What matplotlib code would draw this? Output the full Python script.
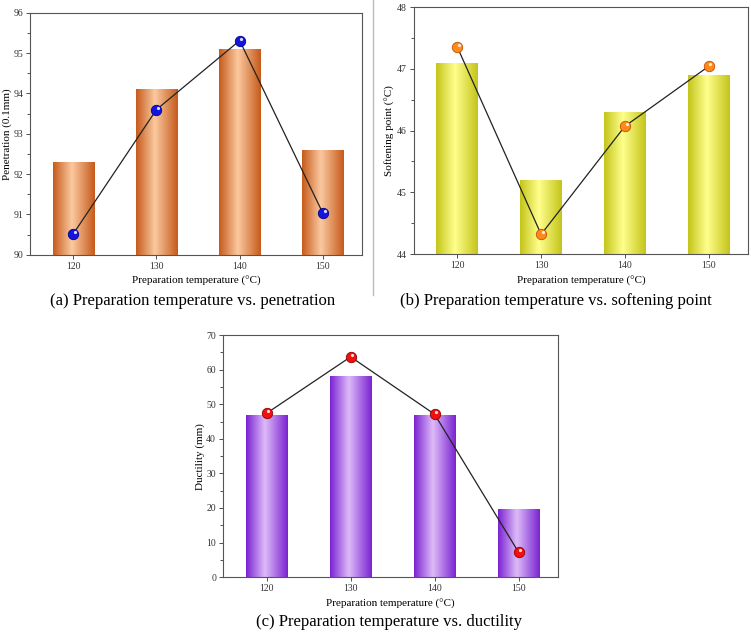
import numpy as np
import matplotlib
matplotlib.use("Agg")
import matplotlib.pyplot as plt
from matplotlib.colors import LinearSegmentedColormap
from matplotlib.ticker import AutoMinorLocator
import matplotlib.transforms as mtransforms

plt.rcParams['font.family'] = ['Liberation Serif', 'DejaVu Serif']

temps = ['120', '130', '140', '150']

pen_bar = [92.3, 94.1, 95.1, 92.6]
pen_line = [90.52, 93.6, 95.31, 91.03]

soft_bar = [47.1, 45.2, 46.3, 46.9]
soft_line = [47.35, 44.32, 46.07, 47.04]

duct_bar = [47.0, 58.2, 46.9, 19.7]
duct_line = [47.4, 63.7, 47.1, 7.2]

x = np.arange(len(temps))


def gradient_bars(ax, vals, ymin, edge, mid):
    cmap = LinearSegmentedColormap.from_list('g', [(0, edge), (0.45, mid), (1, edge)])
    grad = np.linspace(0, 1, 256).reshape(1, -1)
    bars = ax.bar(x, [v - ymin for v in vals], bottom=ymin, width=0.5,
                  color='none', edgecolor='none', zorder=2)
    for b in bars:
        bx, by = b.get_x(), b.get_y()
        w, h = b.get_width(), b.get_height()
        im = ax.imshow(grad, cmap=cmap, aspect='auto', extent=[bx, bx + w, by, by + h],
                       zorder=2, interpolation='bicubic')
        im.set_clip_path(b)


def sphere_line(ax, vals, face, dark):
    ax.plot(x, vals, color='#222222', lw=0.9, zorder=3)
    ax.plot(x, vals, 'o', ms=7.5, mfc=face, mec=dark, mew=0.6, zorder=4)
    off = mtransforms.offset_copy(ax.transData, fig=ax.figure, x=1.2, y=1.4, units='points')
    ax.plot(x, vals, 'o', ms=2.3, mfc='white', mec='none', alpha=0.85,
            transform=off, zorder=5)


def style(ax, ylim, yticks, ylabel):
    ax.set_xlim(-0.52, 3.47)
    ax.set_ylim(*ylim)
    ax.set_yticks(yticks)
    ax.yaxis.set_minor_locator(AutoMinorLocator(2))
    ax.set_xticks(x)
    ax.set_xticklabels(temps)
    ax.tick_params(axis='both', labelsize=7, colors='#333333', length=3, width=0.6, pad=2)
    ax.tick_params(axis='y', which='minor', length=2, width=0.6, color='#333333')
    for s in ax.spines.values():
        s.set_color('#555555')
        s.set_linewidth(0.8)
    ax.set_ylabel(ylabel, fontsize=8, labelpad=1)
    ax.set_xlabel('Preparation temperature (°C)', fontsize=8, labelpad=4)


fig = plt.figure(figsize=(7.51, 6.37), dpi=100)

ax1 = fig.add_axes([0.040, 0.600, 0.442, 0.380])
gradient_bars(ax1, pen_bar, 90, '#C65A1A', '#FBC9A0')
sphere_line(ax1, pen_line, '#1515E0', '#00008A')
style(ax1, (90, 96), range(90, 97), 'Penetration (0.1mm)')

ax2 = fig.add_axes([0.551, 0.601, 0.445, 0.388])
gradient_bars(ax2, soft_bar, 44, '#C4C41A', '#FFFF8C')
sphere_line(ax2, soft_line, '#FF8A1A', '#C05000')
style(ax2, (44, 48), range(44, 49), 'Softening point (°C)')

ax3 = fig.add_axes([0.297, 0.094, 0.446, 0.380])
gradient_bars(ax3, duct_bar, 0, '#7A22D2', '#DDBBF8')
sphere_line(ax3, duct_line, '#F01010', '#900000')
style(ax3, (0, 70), range(0, 71, 10), 'Ductility (mm)')

fig.add_artist(plt.Line2D([0.4967, 0.4967], [0.537, 1.0], color='#BBBBBB', lw=1.0))

fig.text(0.256, 0.527, '(a) Preparation temperature vs. penetration', fontsize=12,
         ha='center', va='center')
fig.text(0.740, 0.527, '(b) Preparation temperature vs. softening point', fontsize=12,
         ha='center', va='center')
fig.text(0.518, 0.024, '(c) Preparation temperature vs. ductility', fontsize=12,
         ha='center', va='center')

fig.savefig('out.png', dpi=100)
